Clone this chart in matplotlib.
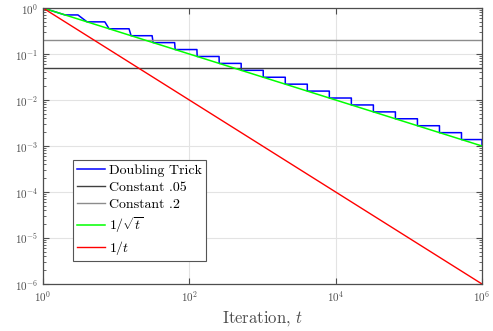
import matplotlib
matplotlib.use("Agg")
import matplotlib.pyplot as plt
from matplotlib.ticker import LogLocator, NullFormatter, FixedLocator

plt.rcParams["font.family"] = ["cmr10", "DejaVu Serif"]
plt.rcParams["mathtext.fontset"] = "cm"
plt.rcParams["axes.formatter.use_mathtext"] = True

# doubling trick: epochs [start, end] with constant step size in each
epoch_start = [1, 2, 4, 8, 16, 32, 64, 128, 256, 512, 1024, 2048, 4096, 8192,
               16384, 32768, 65536, 131072, 262144, 524288]
epoch_end = [1, 3, 7, 15, 31, 63, 127, 255, 511, 1023, 2047, 4095, 8191, 16383,
             32767, 65535, 131071, 262143, 524287, 999999]
epoch_step = [1.0, 0.7071, 0.5, 0.3536, 0.25, 0.1768, 0.125, 0.0884, 0.0625,
              0.0442, 0.03125, 0.0221, 0.01563, 0.01105, 0.00781, 0.00552,
              0.00391, 0.00276, 0.00195, 0.00138]
final_t = 1000000
final_step = 0.001

t_range = [1, 1000000]
const_05 = [0.05, 0.05]
const_2 = [0.2, 0.2]
inv_sqrt_t = [1.0, 0.001]
inv_t = [1.0, 0.000001]

x_ticks = [1, 1e2, 1e4, 1e6]
y_ticks = [1e-6, 1e-5, 1e-4, 1e-3, 1e-2, 1e-1, 1]

dt_x = []
dt_y = []
for s, e, v in zip(epoch_start, epoch_end, epoch_step):
    dt_x += [s, e]
    dt_y += [v, v]
dt_x.append(final_t)
dt_y.append(final_step)

fig = plt.figure(figsize=(4.93, 3.31), dpi=100)
ax = fig.add_axes([0.0872, 0.142, 0.8905, 0.8338])

ax.plot(dt_x, dt_y, color="#0000ff", lw=1.1, label="Doubling Trick")
ax.plot(t_range, const_05, color="#404040", lw=1.0, label="Constant .05")
ax.plot(t_range, const_2, color="#8c8c8c", lw=1.0, label="Constant .2")
ax.plot(t_range, inv_sqrt_t, color="#00ff00", lw=1.1, label=r"$1/\sqrt{t}$")
ax.plot(t_range, inv_t, color="#ff0000", lw=1.0, label=r"$1/t$")

ax.set_xscale("log")
ax.set_yscale("log")
ax.set_xlim(1, 1e6)
ax.set_ylim(1e-6, 1)

ax.xaxis.set_major_locator(FixedLocator(x_ticks))
ax.xaxis.set_minor_locator(plt.NullLocator())
ax.yaxis.set_major_locator(FixedLocator(y_ticks))
ax.yaxis.set_minor_locator(LogLocator(base=10, subs=range(2, 10)))
ax.yaxis.set_minor_formatter(NullFormatter())

ax.grid(True, which="major", color="#e3e3e3", lw=0.8)
ax.set_axisbelow(True)

ax.tick_params(which="both", direction="in", top=True, right=True,
               colors="#4d4d4d", labelsize=8)
ax.tick_params(which="major", length=4)
ax.tick_params(which="minor", length=2.5)
for sp in ax.spines.values():
    sp.set_color("#4d4d4d")
    sp.set_linewidth(0.9)

ax.set_xlabel(r"Iteration, $t$", fontsize=12, color="#4d4d4d", labelpad=4)

leg = ax.legend(loc="lower left", bbox_to_anchor=(0.068, 0.083), fontsize=10,
                fancybox=False, framealpha=1, edgecolor="#555555",
                handlelength=2.0, handletextpad=0.3, labelspacing=0.3,
                borderpad=0.3, borderaxespad=0)
leg.get_frame().set_linewidth(0.8)

fig.savefig("out.png", dpi=100)
